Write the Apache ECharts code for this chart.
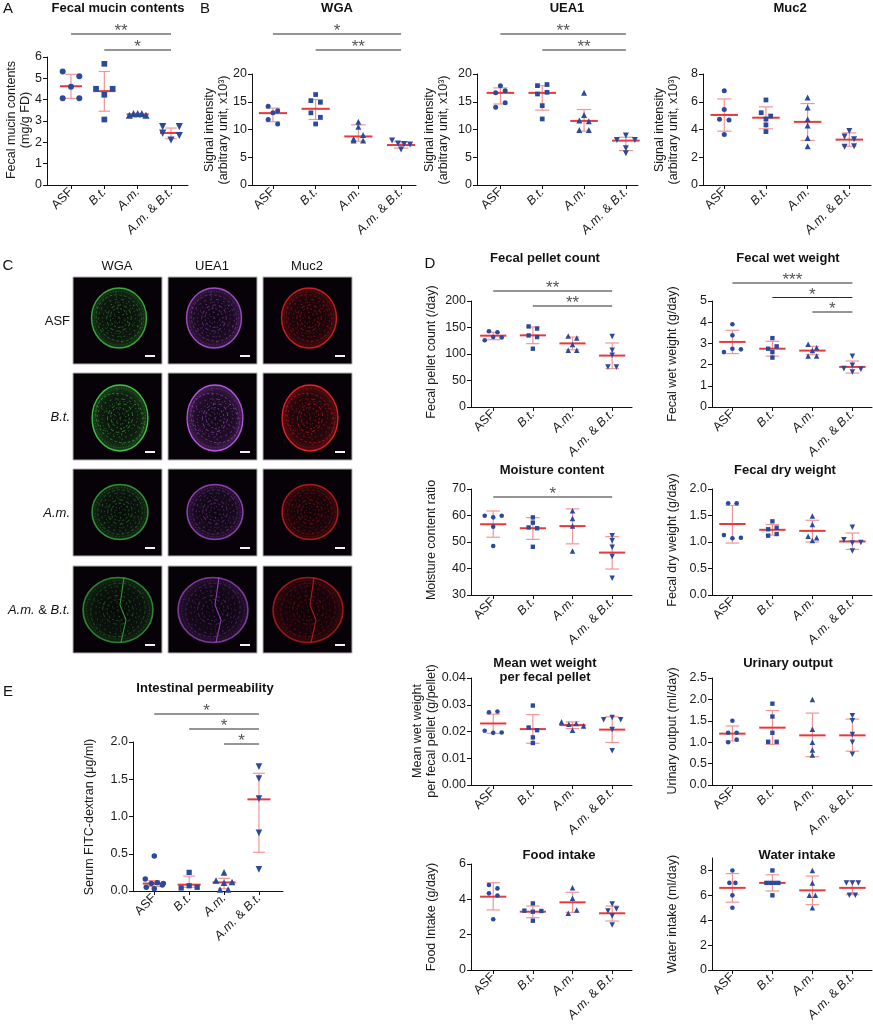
<!DOCTYPE html>
<html>
<head>
<meta charset="utf-8">
<script src="https://cdn.jsdelivr.net/npm/echarts@6/dist/echarts.min.js"></script>
<style>
  html, body { margin: 0; padding: 0; background: #fff; }
  #main { width: 873px; height: 1024px; }
</style>
</head>
<body>
<div id="main"></div>
<script>
// groups on every x axis
var groups = ['ASF', 'B.t.', 'A.m.', 'A.m. & B.t.'];

// A  fecal mucin contents (mg/g FD)
var mucinPts = [[5.32, 5.10, 4.6, 4.07, 4.07], [5.68, 4.51, 4.51, 4.23, 3.07], [3.27, 3.35, 3.35, 3.35, 3.27], [2.74, 2.74, 2.43, 2.32, 2.11]];
var mucinMid = [4.63, 4.40, 3.31, 2.44];
var mucinLo = [4.06, 3.46, 3.26, 2.17];
var mucinHi = [5.19, 5.32, 3.36, 2.67];
var mucinSig = [[0, 3, '**'], [1, 3, '*']];

// B  WGA
var wgaPts = [[14.2, 13.4, 13.0, 11.8, 11.0], [16.3, 15.2, 14.9, 13.0, 12.2, 11.0], [11.4, 10.5, 8.3, 9.0, 8.0, 8.0], [8.0, 7.5, 7.4, 7.3, 6.4]];
var wgaMid = [12.95, 13.73, 8.75, 7.2];
var wgaLo = [11.4, 11.8, 7.9, 6.65];
var wgaHi = [13.86, 15.4, 10.85, 7.8];
var wgaSig = [[0, 3, '*'], [1, 3, '**']];

// B  UEA1
var ueaPts = [[17.9, 16.6, 17.0, 14.0, 14.8], [17.9, 18.1, 16.4, 16.7, 14.3, 11.9], [16.6, 12.6, 11.6, 11.5, 9.9, 9.9], [8.1, 8.9, 8.13, 6.6, 5.7]];
var ueaMid = [16.6, 16.6, 11.55, 8.0];
var ueaLo = [14.6, 13.5, 9.7, 6.2];
var ueaHi = [17.5, 17.9, 13.6, 8.6];
var ueaSig = [[0, 3, '**'], [1, 3, '**']];

// B  Muc2
var mucPts = [[6.79, 5.45, 4.73, 4.68, 3.64], [6.13, 5.21, 4.97, 4.75, 4.33, 3.85], [6.3, 5.58, 4.73, 4.29, 3.39, 2.79], [3.9, 3.5, 3.3, 2.75, 2.8]];
var mucMid = [5.05, 4.85, 4.55, 3.27];
var mucLo = [3.88, 4.05, 3.22, 2.79];
var mucHi = [6.2, 5.63, 5.87, 3.76];

// D  fecal pellet count (/day)
var pelPts = [[143, 141, 126, 132, 131], [152, 148, 135, 132, 110], [134, 130, 118, 107, 107], [133, 107, 97.5, 75.5, 75.5]];
var pelMid = [134.6, 135.2, 120.0, 97];
var pelLo = [127, 119.5, 108, 72.5];
var pelHi = [141, 151, 132, 120.8];
var pelSig = [[0, 3, '**'], [1, 3, '**']];

// D  fecal wet weight (g/day)
var wetPts = [[3.9, 3.38, 2.59, 2.75, 2.72], [3.25, 2.75, 2.86, 2.59, 2.33], [2.96, 2.8, 2.67, 2.41, 2.41], [2.39, 1.65, 1.81, 1.97, 1.78]];
var wetMid = [3.07, 2.75, 2.66, 1.89];
var wetLo = [2.52, 2.4, 2.47, 1.6];
var wetHi = [3.62, 3.1, 2.86, 2.17];
var wetSig = [[0, 3, '***'], [1, 3, '*'], [2, 3, '*']];

// D  moisture content ratio
var moiPts = [[59.9, 59.3, 59.9, 55.8, 48.5], [59.3, 57.3, 55.5, 55.2, 48.2], [61.8, 58.9, 56, 46.6], [52.4, 50.5, 48, 44.5, 36.3]];
var moiMid = [56.7, 55.2, 56, 46];
var moiLo = [51.8, 51, 49.3, 39.8];
var moiHi = [61.7, 59.2, 62.5, 52];
var moiSig = [[0, 3, '*']];

// D  fecal dry weight (g/day)
var dryPts = [[1.73, 1.73, 1.13, 1.07, 1.08], [1.39, 1.24, 1.27, 1.12, 1.15], [1.49, 1.33, 1.03, 1.11, 1.08], [1.28, 1.04, 0.98, 0.99, 0.83]];
var dryMid = [1.34, 1.23, 1.21, 1.01];
var dryLo = [0.98, 1.13, 1.0, 0.86];
var dryHi = [1.69, 1.33, 1.41, 1.17];

// D  mean wet weight per fecal pellet (g/pellet)
var mwPts = [[0.0272, 0.0275, 0.0203, 0.0195, 0.0196], [0.0297, 0.0215, 0.0205, 0.0178, 0.0157], [0.0236, 0.0227, 0.0230, 0.0221, 0.0205], [0.0244, 0.0252, 0.0244, 0.0207, 0.0128]];
var mwMid = [0.023, 0.0209, 0.0224, 0.0207];
var mwLo = [0.0193, 0.0156, 0.0211, 0.0159];
var mwHi = [0.0265, 0.0263, 0.0236, 0.0255];

// D  urinary output (ml/day)
var urPts = [[1.5, 1.22, 1.22, 1.0, 1.06], [1.9, 1.6, 1.22, 1.01, 1.01], [2.0, 1.3, 1.0, 0.82, 0.7], [1.62, 1.5, 1.18, 1.0, 0.72]];
var urMid = [1.2, 1.34, 1.16, 1.16];
var urLo = [1.03, 0.95, 0.66, 0.79];
var urHi = [1.38, 1.74, 1.68, 1.54];

// D  food intake (g/day)
var foodPts = [[4.81, 4.62, 4.34, 4.21, 2.87], [3.77, 3.36, 3.3, 3.34, 2.79], [4.66, 4.06, 3.21, 3.4], [3.74, 3.34, 3.45, 3.06, 2.55]];
var foodMid = [4.15, 3.3, 3.83, 3.21];
var foodLo = [3.4, 2.96, 3.26, 2.77];
var foodHi = [4.94, 3.62, 4.4, 3.62];

// D  water intake (ml/day)
var watPts = [[8, 7, 7, 6, 5], [8, 7, 7, 7, 7, 6], [8, 7, 6, 6, 5], [7, 7, 7, 6, 6]];
var watMid = [6.6, 7.0, 6.4, 6.6];
var watLo = [5.45, 6.35, 5.25, 6.05];
var watHi = [7.75, 7.65, 7.55, 7.15];

// E  serum FITC-dextran (ug/ml)
var fitcPts = [[0.47, 0.16, 0.05, 0.1, 0.11, 0.03, 0.1, 0.08], [0.25, 0.04, 0.07, 0.05], [0.25, 0.14, 0.11, 0.12, 0.02, 0.02], [1.67, 1.51, 1.24, 0.78, 0.29]];
var fitcMid = [0.1, 0.085, 0.115, 1.23];
var fitcLo = [0.06, 0.05, 0.03, 0.52];
var fitcHi = [0.14, 0.2, 0.17, 1.58];
var fitcSig = [[0, 3, '*'], [1, 3, '*'], [2, 3, '*']];

// C  stained sections
var stainCols = ['WGA', 'UEA1', 'Muc2'];
var stainRows = ['ASF', 'B.t.', 'A.m.', 'A.m. & B.t.'];

var FONT = 'Liberation Sans';
var dotColor = '#2a4a9c';
var meanColor = '#e8383b';
var errColor = '#f29595';
var symbols = ['circle', 'rect', 'triangle', 'triangle'];

// panel layout: box = [left, top, right, bottom] in px
var panels = [
  { pts: mucinPts, mid: mucinMid, lo: mucinLo, hi: mucinHi, sig: mucinSig,
    box: [47, 57, 188, 185], xr: [-0.72, 3.51], yr: [0, 6], step: 1, dec: 0,
    size: 6, pitch: 16.7, wmax: 8.3, sigTop: 34, sigStep: 16,
    title: 'Fecal mucin contents', tx: 118, ty: 8,
    yname: 'Fecal mucin contents\n(mg/g FD)', nx: 19, ny: 120 },
  { pts: wgaPts, mid: wgaMid, lo: wgaLo, hi: wgaHi, sig: wgaSig,
    box: [252, 74, 416, 185], xr: [-0.49, 3.35], yr: [0, 20], step: 5, dec: 0,
    size: 5, pitch: 9.5, wmax: 9, sigTop: 34, sigStep: 16,
    title: 'WGA', tx: 337, ty: 8,
    yname: 'Signal intensity\n(arbitrary unit, x10³)', nx: 217, ny: 130 },
  { pts: ueaPts, mid: ueaMid, lo: ueaLo, hi: ueaHi, sig: ueaSig,
    box: [477, 74, 638, 185], xr: [-0.56, 3.29], yr: [0, 20], step: 5, dec: 0,
    size: 5, pitch: 9.5, wmax: 9, sigTop: 34, sigStep: 16,
    title: 'UEA1', tx: 567, ty: 8,
    yname: 'Signal intensity\n(arbitrary unit, x10³)', nx: 437, ny: 130 },
  { pts: mucPts, mid: mucMid, lo: mucLo, hi: mucHi, sig: [],
    box: [703, 74, 871, 185], xr: [-0.51, 3.52], yr: [0, 8], step: 2, dec: 0,
    size: 5, pitch: 9.5, wmax: 9,
    title: 'Muc2', tx: 790, ty: 8,
    yname: 'Signal intensity\n(arbitrary unit, x10³)', nx: 667, ny: 130 },
  { pts: pelPts, mid: pelMid, lo: pelLo, hi: pelHi, sig: pelSig,
    box: [471, 301, 632, 407], xr: [-0.56, 3.5], yr: [0, 200], step: 50, dec: 0,
    size: 4.6, pitch: 8.5, wmax: 10, sigTop: 291, sigStep: 15,
    title: 'Fecal pellet count', tx: 545, ty: 258,
    yname: 'Fecal pellet count (/day)', nx: 432, ny: 352 },
  { pts: wetPts, mid: wetMid, lo: wetLo, hi: wetHi, sig: wetSig,
    box: [712, 301, 872, 407], xr: [-0.51, 3.49], yr: [0, 5], step: 1, dec: 0,
    size: 4.6, pitch: 8.5, wmax: 10, sigTop: 283, sigStep: 14.5,
    title: 'Fecal wet weight', tx: 788, ty: 258,
    yname: 'Fecal wet weight (g/day)', nx: 673, ny: 354 },
  { pts: moiPts, mid: moiMid, lo: moiLo, hi: moiHi, sig: moiSig,
    box: [471, 489, 632, 595], xr: [-0.56, 3.5], yr: [30, 70], step: 10, dec: 0,
    size: 4.6, pitch: 8.5, wmax: 10, sigTop: 497, sigStep: 15,
    title: 'Moisture content', tx: 552, ty: 470,
    yname: 'Moisture content ratio', nx: 432, ny: 540 },
  { pts: dryPts, mid: dryMid, lo: dryLo, hi: dryHi, sig: [],
    box: [712, 489, 872, 595], xr: [-0.51, 3.49], yr: [0, 2], step: 0.5, dec: 1,
    size: 4.6, pitch: 8.5, wmax: 10,
    title: 'Fecal dry weight', tx: 785, ty: 470,
    yname: 'Fecal dry weight (g/day)', nx: 673, ny: 540 },
  { pts: mwPts, mid: mwMid, lo: mwLo, hi: mwHi, sig: [],
    box: [471, 678, 632, 785], xr: [-0.56, 3.5], yr: [0, 0.04], step: 0.01, dec: 2,
    size: 4.6, pitch: 8.5, wmax: 11,
    title: 'Mean wet weight\nper fecal pellet', tx: 545, ty: 670,
    yname: 'Mean wet weight\nper fecal pellet (g/pellet)', nx: 425, ny: 731 },
  { pts: urPts, mid: urMid, lo: urLo, hi: urHi, sig: [],
    box: [712, 678, 872, 785], xr: [-0.51, 3.49], yr: [0, 2.5], step: 0.5, dec: 1,
    size: 4.6, pitch: 8.5, wmax: 10,
    title: 'Urinary output', tx: 788, ty: 663,
    yname: 'Urinary output (ml/day)', nx: 673, ny: 731 },
  { pts: foodPts, mid: foodMid, lo: foodLo, hi: foodHi, sig: [],
    box: [471, 864, 632, 970], xr: [-0.56, 3.5], yr: [0, 6], step: 2, dec: 0,
    size: 4.6, pitch: 8.5, wmax: 10,
    title: 'Food intake', tx: 559, ty: 855,
    yname: 'Food Intake (g/day)', nx: 432, ny: 917 },
  { pts: watPts, mid: watMid, lo: watLo, hi: watHi, sig: [],
    box: [712, 858, 872, 970], xr: [-0.51, 3.49], yr: [0, 9], step: 2, dec: 0,
    size: 4.6, pitch: 6, wmax: 6,
    title: 'Water intake', tx: 797, ty: 855,
    yname: 'Water intake (ml/day)', nx: 673, ny: 914 },
  { pts: fitcPts, mid: fitcMid, lo: fitcLo, hi: fitcHi, sig: fitcSig,
    box: [133, 742, 283, 891], xr: [-0.61, 3.69], yr: [0, 2], step: 0.5, dec: 1,
    size: 5.5, pitch: 8, wmax: 9, sigTop: 714, sigStep: 15,
    title: 'Intestinal permeability', tx: 205, ty: 688,
    yname: 'Serum FITC-dextran (μg/ml)', nx: 90, ny: 817 }
];

// horizontal spread of points that sit at about the same height (Prism style rows)
function spread(vals, pxPerUnit, pxPerCat, p) {
  var order = vals.map(function (v, i) { return i; }).sort(function (a, b) { return vals[b] - vals[a]; });
  var rows = [], cur = [order[0]];
  for (var k = 1; k < order.length; k++) {
    if ((vals[cur[0]] - vals[order[k]]) * pxPerUnit < p.size * 0.9) cur.push(order[k]);
    else { rows.push(cur); cur = [order[k]]; }
  }
  rows.push(cur);
  var off = [];
  rows.forEach(function (r) {
    r.sort(function (a, b) { return a - b; });
    var n = r.length;
    var pitch = n > 1 ? Math.min(p.pitch, 2 * p.wmax / (n - 1)) : 0;
    r.forEach(function (i, j) { off[i] = (j - (n - 1) / 2) * pitch / pxPerCat; });
  });
  return off;
}

function catLabel(v) {
  var i = Math.round(v);
  if (i === 0) return '{n|ASF}';
  if (i === 1) return '{i|B.t.}';
  if (i === 2) return '{i|A.m.}';
  if (i === 3) return '{i|A.m.}{n| & }{i|B.t.}';
  return '';
}

function statsItem(params, api) {
  var g = api.value(0);
  var m = api.coord([g, api.value(1)]);
  var l = api.coord([g, api.value(2)]);
  var h = api.coord([g, api.value(3)]);
  var u = api.coord([g + 1, api.value(1)])[0] - m[0];
  var cap = u * 0.17, half = u * 0.33;
  var eb = { stroke: errColor, lineWidth: 1.2 };
  return {
    type: 'group',
    children: [
      { type: 'line', shape: { x1: m[0], y1: l[1], x2: m[0], y2: h[1] }, style: eb },
      { type: 'line', shape: { x1: m[0] - cap, y1: l[1], x2: m[0] + cap, y2: l[1] }, style: eb },
      { type: 'line', shape: { x1: m[0] - cap, y1: h[1], x2: m[0] + cap, y2: h[1] }, style: eb },
      { type: 'line', shape: { x1: m[0] - half, y1: m[1], x2: m[0] + half, y2: m[1] }, style: { stroke: meanColor, lineWidth: 2 } }
    ]
  };
}

var grids = [], xAxes = [], yAxes = [], series = [], graphics = [];

panels.forEach(function (p, gi) {
  var b = p.box;
  var w = b[2] - b[0], h = b[3] - b[1];
  var pxPerCat = w / (p.xr[1] - p.xr[0]);
  var pxPerUnit = h / (p.yr[1] - p.yr[0]);
  grids.push({ left: b[0], top: b[1], width: w, height: h });
  xAxes.push({
    type: 'value', gridIndex: gi, min: p.xr[0], max: p.xr[1],
    splitLine: { show: false },
    axisLine: { show: true, onZero: false, lineStyle: { color: '#111', width: 1 } },
    axisTick: { show: true, customValues: [0, 1, 2, 3], length: 4, lineStyle: { color: '#111' } },
    axisLabel: {
      customValues: [0, 1, 2, 3], rotate: 45, margin: 5, formatter: catLabel,
      rich: {
        n: { fontSize: 12.5, color: '#1a1a1a', fontFamily: FONT },
        i: { fontSize: 12.5, color: '#1a1a1a', fontFamily: FONT, fontStyle: 'italic' }
      }
    }
  });
  yAxes.push({
    type: 'value', gridIndex: gi, min: p.yr[0], max: p.yr[1], interval: p.step,
    splitLine: { show: false },
    axisLine: { show: true, onZero: false, lineStyle: { color: '#111', width: 1 } },
    axisTick: { show: true, length: 4, lineStyle: { color: '#111' } },
    axisLabel: {
      fontSize: 12.5, color: '#1a1a1a', fontFamily: FONT, margin: 5,
      formatter: function (v) { return v.toFixed(p.dec); }
    }
  });

  p.pts.forEach(function (vals, g) {
    var off = spread(vals, pxPerUnit, pxPerCat, p);
    var s = p.size * (g === 1 ? 0.95 : g >= 2 ? 1.2 : 1);
    series.push({
      type: 'scatter', xAxisIndex: gi, yAxisIndex: gi, silent: true,
      symbol: symbols[g], symbolRotate: g === 3 ? 180 : 0, symbolSize: s,
      itemStyle: { color: dotColor, opacity: 1 },
      data: vals.map(function (v, i) { return [g + off[i], v]; })
    });
  });

  series.push({
    type: 'custom', xAxisIndex: gi, yAxisIndex: gi, silent: true,
    renderItem: statsItem,
    encode: { x: 0, y: 1 },
    data: p.mid.map(function (m, g) { return [g, m, p.lo[g], p.hi[g]]; })
  });

  if (p.sig.length) {
    series.push({
      type: 'custom', xAxisIndex: gi, yAxisIndex: gi, silent: true, clip: false,
      encode: { x: [0, 1], y: 2 },
      data: p.sig.map(function (s) { return [s[0], s[1], p.yr[0]]; }),
      renderItem: function (params, api) {
        var s = p.sig[params.dataIndex];
        var a = api.coord([s[0], p.yr[0]]), c = api.coord([s[1], p.yr[0]]);
        var y = p.sigTop + params.dataIndex * p.sigStep;
        return {
          type: 'group',
          children: [
            { type: 'line', shape: { x1: a[0], y1: y, x2: c[0], y2: y }, style: { stroke: '#2a2a2a', lineWidth: 1 } },
            { type: 'text', x: (a[0] + c[0]) / 2, y: y + 6,
              style: { text: s[2], align: 'center', verticalAlign: 'bottom', textAlign: 'center', textVerticalAlign: 'bottom',
                       fill: '#555', fontSize: 17, fontFamily: FONT } }
          ]
        };
      }
    });
  }

  graphics.push({
    type: 'text', x: p.tx, y: p.ty,
    style: { text: p.title, align: 'center', verticalAlign: 'middle', textAlign: 'center', textVerticalAlign: 'middle',
             fill: '#111', fontSize: 13, fontWeight: 'bold', fontFamily: FONT, lineHeight: 14 }
  });
  graphics.push({
    type: 'text', x: p.nx, y: p.ny, rotation: Math.PI / 2,
    style: { text: p.yname, align: 'center', verticalAlign: 'middle', textAlign: 'center', textVerticalAlign: 'middle',
             fill: '#1a1a1a', fontSize: 12.5, fontFamily: FONT, lineHeight: 14 }
  });
});

// panel letters
[['A', 8, 9], ['B', 205, 9], ['C', 8, 266], ['D', 430, 264], ['E', 8, 692]].forEach(function (t) {
  graphics.push({
    type: 'text', x: t[1], y: t[2],
    style: { text: t[0], align: 'center', verticalAlign: 'middle', textAlign: 'center', textVerticalAlign: 'middle',
             fill: '#111', fontSize: 15, fontFamily: FONT }
  });
});

// C  stained sections drawn as tiles
var tileX = [73, 168, 263], tileY = [277, 373, 469, 566];
var stainRgb = ['70,200,70', '190,90,235', '240,35,35'];
var rowGlow = [0.8, 1.0, 0.65, 0.55];
var rowShape = [[46, 41, 27.5, 30], [47, 45, 28, 33], [47, 43, 28, 27.5], [45, 44, 35, 32.5]];
var ringDash = [[1, 2], [3, 2], [2, 4], [1, 3], [4, 3], [2, 2], [1, 4]];

stainCols.forEach(function (name, c) {
  graphics.push({
    type: 'text', x: tileX[c] + 44, y: 266,
    style: { text: name, align: 'center', verticalAlign: 'middle', textAlign: 'center', textVerticalAlign: 'middle',
             fill: '#111', fontSize: 13, fontFamily: FONT }
  });
});

stainRows.forEach(function (name, r) {
  var txt = r === 0 ? name : r === 3 ? '{i|A.m.} & {i|B.t.}' : '{i|' + name + '}';
  graphics.push({
    type: 'text', x: 70, y: tileY[r] + 44,
    style: { text: txt, align: 'right', verticalAlign: 'middle', textAlign: 'right', textVerticalAlign: 'middle',
             fill: '#111', fontSize: 13, fontFamily: FONT,
             rich: { i: { fontStyle: 'italic', fontSize: 13, fontFamily: FONT, fill: '#111' } } }
  });
  stainCols.forEach(function (col, c) {
    var x = tileX[c], y = tileY[r], k = rowGlow[r], sh = rowShape[r];
    var base = 'rgba(' + stainRgb[c] + ',';
    var cx = x + sh[0], cy = y + sh[1];
    graphics.push({ type: 'rect', shape: { x: x, y: y, width: 89, height: 87 },
                    style: { fill: '#060208', stroke: '#b0b0b0', lineWidth: 1 } });
    graphics.push({
      type: 'circle', x: cx, y: cy, scaleX: sh[2] / sh[3],
      shape: { cx: 0, cy: 0, r: sh[3] },
      style: {
        fill: { type: 'radial', x: 0.5, y: 0.5, r: 0.5, colorStops: [
          { offset: 0, color: base + (0.06 * k) + ')' },
          { offset: 0.7, color: base + (0.14 * k) + ')' },
          { offset: 0.93, color: base + (0.28 * k) + ')' },
          { offset: 1, color: base + (0.6 * k) + ')' }] },
        stroke: base + (0.8 * k + 0.15) + ')', lineWidth: 1.5
      }
    });
    // mottled interior
    [0.9, 0.8, 0.68, 0.56, 0.44, 0.32, 0.2].forEach(function (f, j) {
      graphics.push({
        type: 'circle', x: cx, y: cy, scaleX: sh[2] / sh[3], rotation: j * 0.7,
        shape: { cx: 0, cy: 0, r: sh[3] * f },
        style: { fill: 'none', stroke: base + (0.55 * k * (1.1 - f * 0.3)) + ')', lineWidth: 1, lineDash: ringDash[j] }
      });
    });
    [0, 1, 2].forEach(function (j) {
      var a = 0.4 + j * 1.05;
      graphics.push({
        type: 'line',
        shape: { x1: cx - Math.cos(a) * sh[2] * 0.9, y1: cy - Math.sin(a) * sh[3] * 0.9,
                 x2: cx + Math.cos(a) * sh[2] * 0.9, y2: cy + Math.sin(a) * sh[3] * 0.9 },
        style: { stroke: base + (0.35 * k) + ')', lineWidth: 1, lineDash: [2, 3] }
      });
    });
    if (r === 3) {
      graphics.push({
        type: 'polyline',
        shape: { points: [[cx + 6, cy - sh[3]], [cx + 2, cy - 5], [cx + 8, cy + 10], [cx + 3, cy + sh[3]]] },
        style: { fill: 'none', stroke: base + '0.7)', lineWidth: 1.1 }
      });
    }
    graphics.push({ type: 'rect', shape: { x: x + 72, y: y + 78, width: 10, height: 2 }, style: { fill: '#f2f2f2' } });
  });
});

var chart = echarts.init(document.getElementById('main'), null, { renderer: 'canvas' });
chart.setOption({
  animation: false,
  backgroundColor: '#fff',
  textStyle: { fontFamily: FONT },
  grid: grids,
  xAxis: xAxes,
  yAxis: yAxes,
  series: series,
  graphic: { elements: graphics }
});
</script>
</body>
</html>
